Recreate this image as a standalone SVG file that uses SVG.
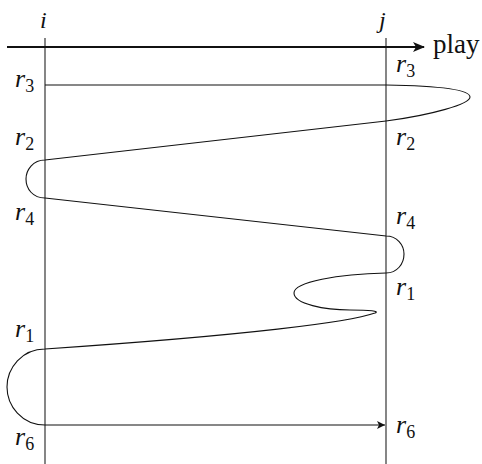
<svg xmlns="http://www.w3.org/2000/svg" width="482" height="464" viewBox="0 0 482 464">
<style>
.lbl{font-family:"Liberation Serif","DejaVu Serif",serif;font-style:italic;font-size:26px;fill:#111}
.sub{font-style:normal;font-size:18px}
.top{font-family:"Liberation Serif","DejaVu Serif",serif;font-style:italic;font-size:24px;fill:#111}
.play{font-family:"Liberation Serif","DejaVu Serif",serif;font-size:27px;fill:#111}
.vline{stroke:#222;stroke-width:1.1;fill:none}
.curve{stroke:#111;stroke-width:1.1;fill:none}
</style>
<defs>
<marker id="bigArrow" viewBox="0 0 12 10" refX="11" refY="5" markerWidth="12" markerHeight="10" markerUnits="userSpaceOnUse" orient="auto">
<path d="M0,0 L12,5 L0,10 L3,5 Z" fill="#111"/>
</marker>
<marker id="smallArrow" viewBox="0 0 8 8" refX="8" refY="4" markerWidth="8" markerHeight="8" markerUnits="userSpaceOnUse" orient="auto">
<path d="M0,0 L8,4 L0,8 L2,4 Z" fill="#111"/>
</marker>
</defs>
<g id="axes">
<line class="vline" x1="45" y1="38" x2="45" y2="464"/>
<line class="vline" x1="386" y1="38" x2="386" y2="464"/>
<line x1="7" y1="47" x2="424" y2="47" stroke="#111" stroke-width="2" marker-end="url(#bigArrow)"/>
</g>
<g id="connectors">
<path class="curve" marker-end="url(#smallArrow)" d="M45,85 L386,85 C448,86 470,91 470,97 C470,104 432,115 386,121 L45,160 C33,160 26,170 26,179 C26,189 33,198 45,198 L386,236 C397,236 404,245 404,254 C404,264 397,273 386,273 C338,274 294,282 294,293 C294,304 325,310 350,310 C370,310 380,311 375,313 C350,322 250,335 45,349 C22,349 7,368 7,387 C7,406 22,425 45,425 L385,425"/>
</g>
<g id="labels">
<text class="top" x="40" y="28">i</text>
<text class="top" x="379" y="28">j</text>
<text class="play" x="433" y="53">play</text>
<text class="lbl" x="15" y="87">r<tspan class="sub" dy="5">3</tspan></text>
<text class="lbl" x="396" y="72">r<tspan class="sub" dy="5">3</tspan></text>
<text class="lbl" x="15" y="145">r<tspan class="sub" dy="5">2</tspan></text>
<text class="lbl" x="396" y="145">r<tspan class="sub" dy="5">2</tspan></text>
<text class="lbl" x="15" y="220">r<tspan class="sub" dy="5">4</tspan></text>
<text class="lbl" x="396" y="224">r<tspan class="sub" dy="5">4</tspan></text>
<text class="lbl" x="396" y="295">r<tspan class="sub" dy="5">1</tspan></text>
<text class="lbl" x="15" y="337">r<tspan class="sub" dy="5">1</tspan></text>
<text class="lbl" x="15" y="445">r<tspan class="sub" dy="5">6</tspan></text>
<text class="lbl" x="396" y="433">r<tspan class="sub" dy="5">6</tspan></text>
</g>
</svg>
